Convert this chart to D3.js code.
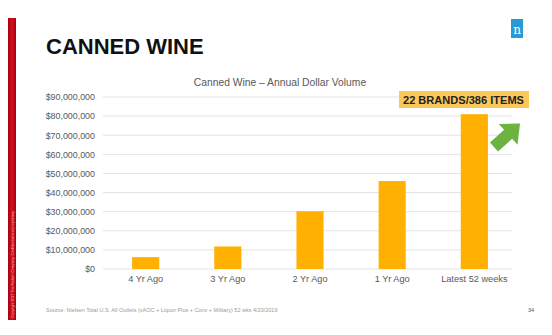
<!DOCTYPE html>
<html><head><meta charset="utf-8">
<script src="https://cdn.jsdelivr.net/npm/d3@7"></script>
<style>body{margin:0;background:#fff;}svg{display:block;font-family:Arial,"Liberation Sans",sans-serif;}</style>
</head><body>
<svg id="c" width="552" height="335"></svg>
<script>
const categories = ["4 Yr Ago","3 Yr Ago","2 Yr Ago","1 Yr Ago","Latest 52 weeks"];
const values = [6200000, 11800000, 30200000, 46000000, 81000000];
const yTicks = [0,10000000,20000000,30000000,40000000,50000000,60000000,70000000,80000000,90000000];

const svg = d3.select("#c");
const x = d3.scaleBand().domain(categories).range([105,515]).paddingInner(0.67).paddingOuter(0.33);
const y = d3.scaleLinear().domain([0,90000000]).range([269,97]);

// red side bar
const grad = svg.append("defs").append("linearGradient").attr("id","rg").attr("x1","0").attr("x2","1");
grad.append("stop").attr("offset","0").attr("stop-color","#a3000f");
grad.append("stop").attr("offset","0.5").attr("stop-color","#d8101f");
grad.append("stop").attr("offset","1").attr("stop-color","#a3000f");
svg.append("rect").attr("x",8).attr("y",18).attr("width",8).attr("height",302).attr("fill","url(#rg)");
svg.append("text").attr("transform","translate(13.8,318) rotate(-90)").attr("font-size",3.6).attr("fill","#f4c8c8")
  .text("Copyright 2017 The Nielsen Company. Confidential and proprietary.");

// title
svg.append("text").attr("x",46).attr("y",54).attr("font-size",22).attr("font-weight","bold").attr("fill","#111")
  .text("CANNED WINE");

// logo
svg.append("rect").attr("x",511).attr("y",19).attr("width",12).attr("height",19).attr("fill","#2a9ad6");
svg.append("text").attr("x",517).attr("y",34).attr("text-anchor","middle").attr("font-size",12).attr("fill","#fff")
  .attr("font-family","Georgia,'DejaVu Serif',serif").text("n");

// chart title
svg.append("text").attr("x",280).attr("y",86).attr("text-anchor","middle").attr("font-size",10.3).attr("fill","#595959")
  .text("Canned Wine – Annual Dollar Volume");

// gridlines
svg.append("g").selectAll("line").data(yTicks).join("line")
  .attr("x1",103).attr("x2",512).attr("y1",d=>y(d)).attr("y2",d=>y(d))
  .attr("stroke","#e3e3e3").attr("stroke-width",1);

// y axis
const yAxis = d3.axisLeft(y).tickValues(yTicks).tickSize(0).tickPadding(0)
  .tickFormat(d=>"$"+d3.format(",")(d));
const ya = svg.append("g").attr("transform","translate(95,0)").call(yAxis);
ya.select(".domain").remove();
ya.selectAll("text").attr("font-size",8.9).attr("fill","#595959").attr("font-family","Arial,'Liberation Sans',sans-serif");

// bars
svg.append("g").selectAll("rect").data(values).join("rect")
  .attr("x",(d,i)=>x(categories[i])).attr("width",x.bandwidth())
  .attr("y",d=>y(d)).attr("height",d=>y(0)-y(d)).attr("fill","#ffb000");

// x axis
const xAxis = d3.axisBottom(x).tickSize(0).tickPadding(6);
const xa = svg.append("g").attr("transform","translate(0,269)").call(xAxis);
xa.select(".domain").remove();
xa.selectAll("text").attr("font-size",9.2).attr("fill","#595959").attr("font-family","Arial,'Liberation Sans',sans-serif");

// annotation
svg.append("rect").attr("x",399).attr("y",91).attr("width",130).attr("height",17).attr("fill","#fbc95a");
svg.append("text").attr("x",403).attr("y",103.5).attr("font-size",11).attr("font-weight","bold")
  .attr("textLength",121).attr("lengthAdjust","spacingAndGlyphs")
  .attr("fill","#222").text("22 BRANDS/386  ITEMS");

// green arrow
const arrow = d3.path();
arrow.moveTo(0,-6); arrow.lineTo(19,-6); arrow.lineTo(19,-14); arrow.lineTo(35,0);
arrow.lineTo(19,14); arrow.lineTo(19,6); arrow.lineTo(0,6); arrow.closePath();
svg.append("path").attr("d",arrow.toString()).attr("fill","#6cb33f")
  .attr("transform","translate(494,147) rotate(-42)");

// footer
svg.append("text").attr("x",46).attr("y",312).attr("font-size",5.5).attr("fill","#9a9a9a")
  .text("Source:  Nielsen Total U.S. All Outlets (xAOC + Liquor Plus + Conv + Military) 52 wks  4/20/2019");
svg.append("text").attr("x",528).attr("y",312).attr("font-size",5.5).attr("fill","#555").text("34");
</script>
</body></html>
